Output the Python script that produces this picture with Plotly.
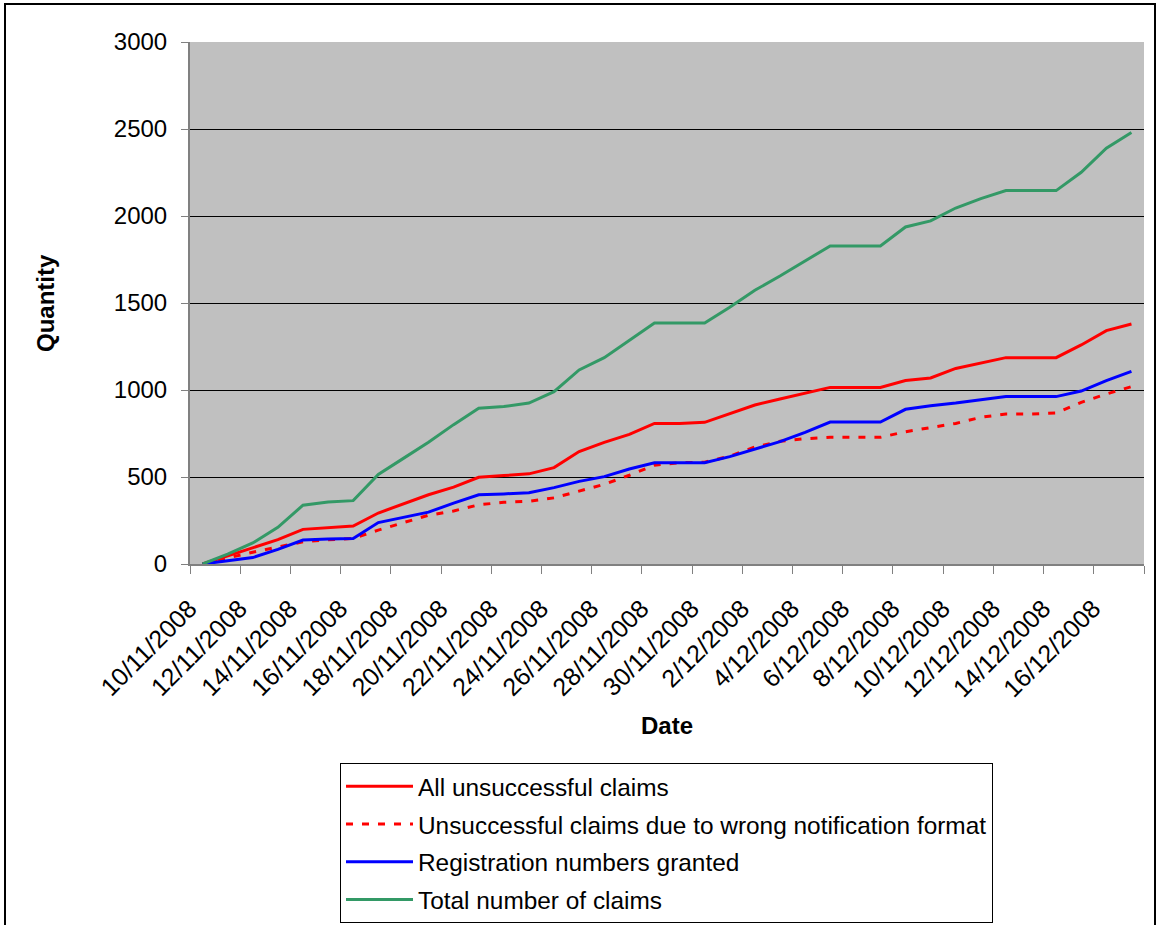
import datetime as dt
import plotly.graph_objects as go

# Daily observation dates, 10 Nov 2008 - 17 Dec 2008
start = dt.date(2008, 11, 10)
dates = [start + dt.timedelta(days=k) for k in range(38)]

total_claims = [0, 57, 121, 211, 338, 356, 364, 515, 607, 700,
                801, 895, 905, 925, 990, 1115, 1186, 1284, 1385, 1385,
                1385, 1475, 1573, 1655, 1740, 1828, 1828, 1828, 1937, 1972,
                2046, 2100, 2146, 2146, 2146, 2251, 2390, 2480]

all_unsuccessful = [0, 47, 92, 140, 199, 209, 218, 293, 345, 398,
                    442, 498, 508, 518, 554, 646, 699, 745, 808, 808,
                    814, 862, 914, 948, 981, 1015, 1015, 1015, 1054, 1069,
                    1124, 1153, 1186, 1186, 1186, 1259, 1341, 1379]

wrong_format = [0, 35, 68, 97, 128, 139, 147, 195, 237, 280,
                305, 340, 355, 360, 380, 420, 458, 510, 568, 582,
                585, 620, 672, 705, 720, 728, 728, 728, 760, 782,
                808, 843, 862, 862, 868, 929, 977, 1019]

registrations = [0, 19, 37, 84, 138, 144, 147, 238, 268, 298,
                 350, 398, 403, 410, 439, 475, 502, 546, 582, 582,
                 582, 617, 661, 703, 757, 816, 816, 816, 889, 910,
                 925, 944, 962, 962, 962, 994, 1054, 1107]

series_names = ["All unsuccessful claims",
                "Unsuccessful claims due to wrong notification format",
                "Registration numbers granted",
                "Total number of claims"]

# Labels every second day; tick marks sit on the day boundaries
label_dates = dates[::2]
label_text = [f"{d.day}/{d.month}/{d.year}" for d in label_dates]
boundary_ticks = [dt.datetime(d.year, d.month, d.day) - dt.timedelta(hours=12)
                  for d in dates[::2]] + [dt.datetime(2008, 12, 17, 12)]

FONT = "Liberation Sans, Arial, sans-serif"

# plot area: x 190..1144 px, y 42..564 px
PLOT_L, PLOT_R, PLOT_T, PLOT_B = 190, 1144, 42, 564
PW, PH = PLOT_R - PLOT_L, PLOT_B - PLOT_T


def px_x(px):
    return (px - PLOT_L) / PW


def px_y(py):
    return (PLOT_B - py) / PH


fig = go.Figure()
fig.add_trace(go.Scatter(x=dates, y=all_unsuccessful, name=series_names[0],
                         mode="lines", line=dict(color="#FF0000", width=3),
                         legendgroup="a"))
fig.add_trace(go.Scatter(x=dates, y=wrong_format, name=series_names[1],
                         mode="lines",
                         line=dict(color="#FF0000", width=3, dash="7px,9px"),
                         legendgroup="b"))
fig.add_trace(go.Scatter(x=dates, y=registrations, name=series_names[2],
                         mode="lines", line=dict(color="#0000FF", width=3),
                         legendgroup="c"))
fig.add_trace(go.Scatter(x=dates, y=total_claims, name=series_names[3],
                         mode="lines", line=dict(color="#339966", width=3),
                         legendgroup="d"))

fig.update_layout(
    width=1159, height=925,
    margin=dict(l=PLOT_L, r=1159 - PLOT_R, t=PLOT_T, b=925 - PLOT_B,
                autoexpand=False),
    paper_bgcolor="white",
    plot_bgcolor="#C0C0C0",
    font=dict(family=FONT, size=24, color="black"),
    showlegend=True,
    legend=dict(
        x=px_x(340), y=px_y(763),
        xanchor="left", yanchor="top",
        bgcolor="white", bordercolor="black", borderwidth=1,
        font=dict(family=FONT, size=24.4, color="black"),
        itemwidth=67, tracegroupgap=3,
    ),
    xaxis=dict(
        type="date", automargin=False,
        range=[dt.datetime(2008, 11, 9, 12), dt.datetime(2008, 12, 17, 12)],
        tickmode="array", tickvals=label_dates, ticktext=label_text,
        tickangle=-45, ticks="", ticklabelstandoff=18, ticklabelshift=-13,
        showgrid=False, zeroline=False,
        showline=True, linecolor="#808080", linewidth=2,
        tickfont=dict(family=FONT, size=25, color="black"),
        minor=dict(tickmode="array", tickvals=boundary_ticks,
                   ticks="outside", ticklen=8, tickcolor="#808080",
                   tickwidth=1, showgrid=False),
    ),
    yaxis=dict(
        range=[0, 3000], tickmode="linear", tick0=0, dtick=500,
        automargin=False,
        ticks="outside", ticklen=7, tickcolor="#808080",
        ticklabelstandoff=9,
        showgrid=True, gridcolor="black", gridwidth=1,
        zeroline=False, showline=True, linecolor="#808080", linewidth=2,
        tickfont=dict(family=FONT, size=24, color="black"),
    ),
    annotations=[
        dict(text="<b>Quantity</b>", xref="paper", yref="paper",
             x=px_x(45), y=0.5, xanchor="center", yanchor="middle",
             textangle=-90, showarrow=False,
             font=dict(family=FONT, size=24, color="black")),
        dict(text="<b>Date</b>", xref="paper", yref="paper",
             x=0.5, y=px_y(725), xanchor="center", yanchor="middle",
             showarrow=False,
             font=dict(family=FONT, size=24, color="black")),
    ],
    shapes=[
        dict(type="rect", xref="paper", yref="paper",
             x0=px_x(5), x1=px_x(1155), y0=px_y(935), y1=px_y(4),
             line=dict(color="black", width=2), fillcolor="rgba(0,0,0,0)",
             layer="below"),
    ],
)

fig.write_html("out.html")
